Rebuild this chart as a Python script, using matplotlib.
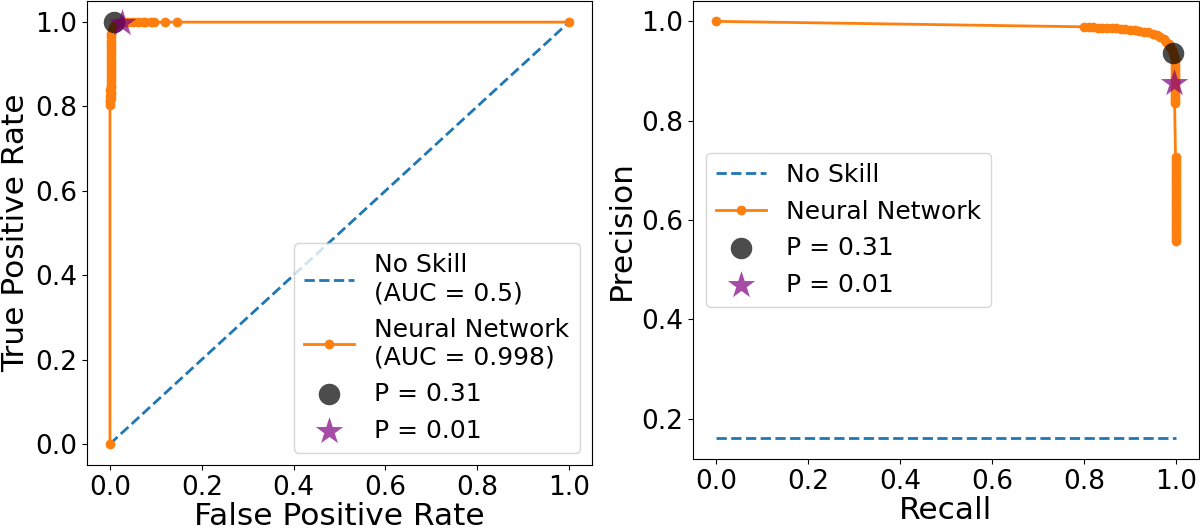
import numpy as np
import matplotlib
matplotlib.use("Agg")
import matplotlib.pyplot as plt

# ROC curve
roc_fpr = [0.0, 0.0, 0.0, 0.001, 0.002, 0.001, 0.003, 0.002, 0.001, 0.002,
           0.002, 0.002, 0.002, 0.002, 0.002, 0.002, 0.002, 0.002, 0.002, 0.002,
           0.002, 0.002, 0.002, 0.002, 0.002, 0.003, 0.004, 0.006, 0.009, 0.013,
           0.018, 0.024, 0.03, 0.04, 0.05, 0.06, 0.071, 0.076, 0.089, 0.095,
           0.119, 0.145, 1.0]
roc_tpr = [0.0, 0.803, 0.81, 0.815, 0.82, 0.825, 0.83, 0.835, 0.84, 0.845,
           0.852, 0.86, 0.868, 0.876, 0.884, 0.892, 0.90, 0.908, 0.916, 0.924,
           0.932, 0.94, 0.948, 0.956, 0.964, 0.972, 0.979, 0.986, 0.991, 0.995,
           0.998, 0.999, 1.0, 1.0, 1.0, 1.0, 1.0, 1.0, 1.0, 1.0,
           1.0, 1.0, 1.0]
roc_noskill = [0.0, 1.0]
roc_auc_ns = 0.5
roc_auc_nn = 0.998

# precision-recall curve: sparse head, dense bend, two dense tails at recall ~1
pr_recall_bend = [0.0, 0.80, 0.81, 0.82, 0.83, 0.84, 0.85, 0.86, 0.87, 0.88,
                  0.89, 0.90, 0.91, 0.92, 0.93, 0.94, 0.95, 0.958, 0.966, 0.973,
                  0.979, 0.984, 0.988, 0.991, 0.994, 0.996]
pr_precision_bend = [1.0, 0.989, 0.988, 0.988, 0.987, 0.987, 0.987, 0.986, 0.986, 0.985,
                     0.984, 0.983, 0.982, 0.981, 0.979, 0.978, 0.975, 0.972, 0.968, 0.964,
                     0.959, 0.954, 0.948, 0.942, 0.936, 0.93]
pr_precision_upper = [0.924, 0.918, 0.912, 0.906, 0.90, 0.894, 0.888, 0.882,
                      0.876, 0.870, 0.864, 0.858, 0.852, 0.846, 0.840, 0.835]
pr_precision_lower = [0.726, 0.72, 0.714, 0.708, 0.702, 0.696, 0.69, 0.684, 0.678, 0.672,
                      0.666, 0.66, 0.654, 0.648, 0.642, 0.636, 0.63, 0.624, 0.618, 0.612,
                      0.606, 0.60, 0.594, 0.588, 0.582, 0.576, 0.570, 0.564, 0.558]
pr_recall_upper = 0.997
pr_recall_lower = 0.999
pr_noskill = 0.161

pr_recall = (pr_recall_bend + [pr_recall_upper] * len(pr_precision_upper)
             + [pr_recall_lower] * len(pr_precision_lower))
pr_precision = pr_precision_bend + pr_precision_upper + pr_precision_lower

# chosen thresholds
thr_labels = ["P = 0.31", "P = 0.01"]
roc_thr_fpr = [0.008, 0.027]
roc_thr_tpr = [1.0, 0.997]
pr_thr_recall = [0.994, 0.996]
pr_thr_precision = [0.937, 0.876]

fig = plt.figure(figsize=(12, 5.29), dpi=100)
ax1 = fig.add_axes([87/1200, 64/529, 505/1200, 464/529])
ax2 = fig.add_axes([693/1200, 70/529, 506/1200, 458.5/529])

line_kw = dict(color="tab:orange", marker=".", markersize=12, linewidth=2)
circ_kw = dict(color="black", alpha=0.7, s=240, zorder=3, linewidths=0)
star_kw = dict(color="purple", alpha=0.7, marker="*", s=430, zorder=4, linewidths=0)

# ROC
ax1.plot(roc_noskill, roc_noskill, linestyle="--", color="tab:blue", linewidth=2,
         label=f"No Skill\n(AUC = {roc_auc_ns})")
ax1.plot(roc_fpr, roc_tpr, label=f"Neural Network\n(AUC = {roc_auc_nn})", **line_kw)
ax1.scatter(roc_thr_fpr[0], roc_thr_tpr[0], label=thr_labels[0], **circ_kw)
ax1.scatter(roc_thr_fpr[1], roc_thr_tpr[1], label=thr_labels[1], **star_kw)
ax1.set_xlabel("False Positive Rate", fontsize=22.5, labelpad=1)
ax1.set_ylabel("True Positive Rate", fontsize=22.5)
ax1.tick_params(labelsize=19)
ax1.legend(loc="lower right", fontsize=18)

# PR
ax2.plot([0, 1], [pr_noskill, pr_noskill], linestyle="--", color="tab:blue", linewidth=2,
         label="No Skill")
ax2.plot(pr_recall, pr_precision, label="Neural Network", **line_kw)
ax2.scatter(pr_thr_recall[0], pr_thr_precision[0], label=thr_labels[0], **circ_kw)
ax2.scatter(pr_thr_recall[1], pr_thr_precision[1], label=thr_labels[1], **star_kw)
ax2.set_xlabel("Recall", fontsize=22.5, labelpad=1)
ax2.set_ylabel("Precision", fontsize=22.5)
ax2.tick_params(labelsize=19)
ax2.legend(loc="center left", fontsize=18)

fig.savefig("out.png", dpi=100)
